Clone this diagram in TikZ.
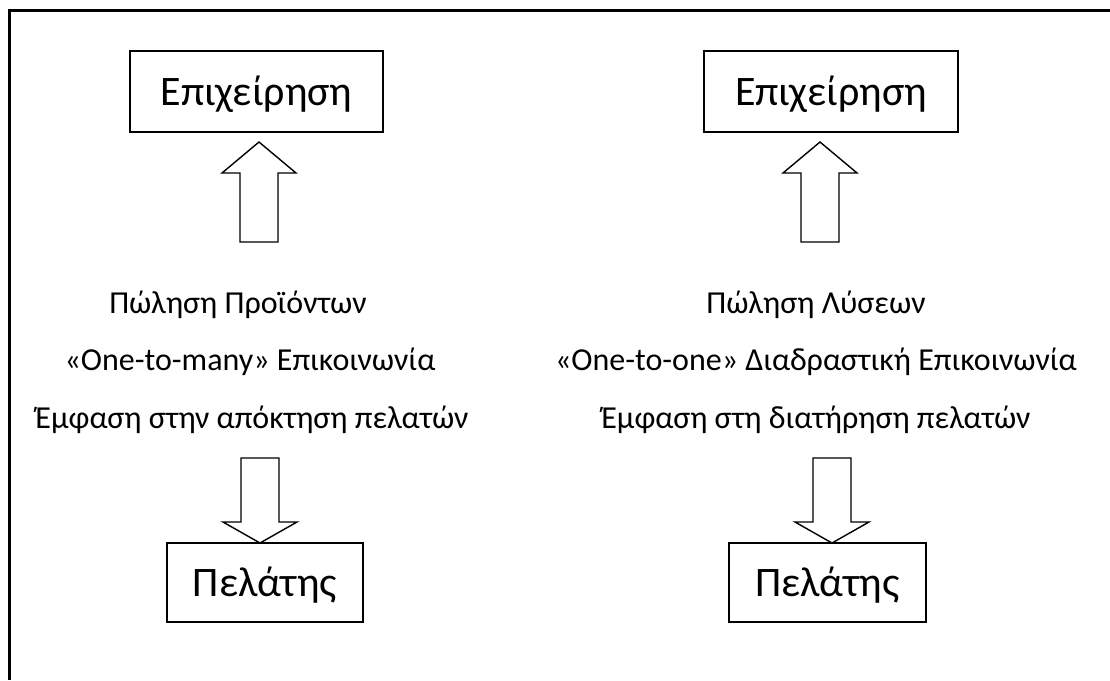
\documentclass[tikz,border=0pt]{standalone}
\usepackage{fontspec}
\setmainfont{Carlito}
\begin{document}
\begin{tikzpicture}[x=1pt,y=1pt,
  labelbox/.style={draw, line width=1.5pt, inner sep=0pt,
    text height=27pt, text depth=0pt, font=\fontsize{42}{48}\selectfont},
  caption/.style={anchor=base, inner sep=0pt, font=\fontsize{32}{38}\selectfont},
  blockarrow/.style={draw, line width=1.4pt, line join=miter, fill=white},
  uparrow/.pic={\path[blockarrow] (0,0) -- (37,-31) -- (19,-31) -- (19,-100)
     -- (-19,-100) -- (-19,-31) -- (-37,-31) -- cycle;},
  downarrow/.pic={\path[blockarrow] (0,0) -- (37,21) -- (19,21) -- (19,85)
     -- (-19,85) -- (-19,21) -- (-37,21) -- cycle;}]
\useasboundingbox (0,0) rectangle (1110,-680);
% frame: top and left edges only
\draw[line width=3pt] (1110,-10) -- (9,-10) -- (9,-680);

% left column
\node[labelbox, minimum width=253, minimum height=81] (firmL) at (256.5,-91.5) {Επιχείρηση};
\pic at (259,-142) {uparrow};
\node[caption] (l1) at (238,-313) {Πώληση Προϊόντων};
\node[caption] (l2) at (250,-370) {«One-to-many» Επικοινωνία};
\node[caption] (l3) at (252,-428) {Έμφαση στην απόκτηση πελατών};
\pic at (260,-543) {downarrow};
\node[labelbox, minimum width=196, minimum height=79] (custL) at (265,-582.5) {Πελάτης};

% right column
\node[labelbox, minimum width=254, minimum height=81] (firmR) at (831,-91.5) {Επιχείρηση};
\pic at (820,-142) {uparrow};
\node[caption] (r1) at (816,-313) {Πώληση Λύσεων};
\node[caption] (r2) at (816,-370) {«One-to-one» Διαδραστική Επικοινωνία};
\node[caption] (r3) at (816,-428) {Έμφαση στη διατήρηση πελατών};
\pic at (832,-543) {downarrow};
\node[labelbox, minimum width=197, minimum height=79] (custR) at (827.5,-582.5) {Πελάτης};
\end{tikzpicture}
\end{document}
